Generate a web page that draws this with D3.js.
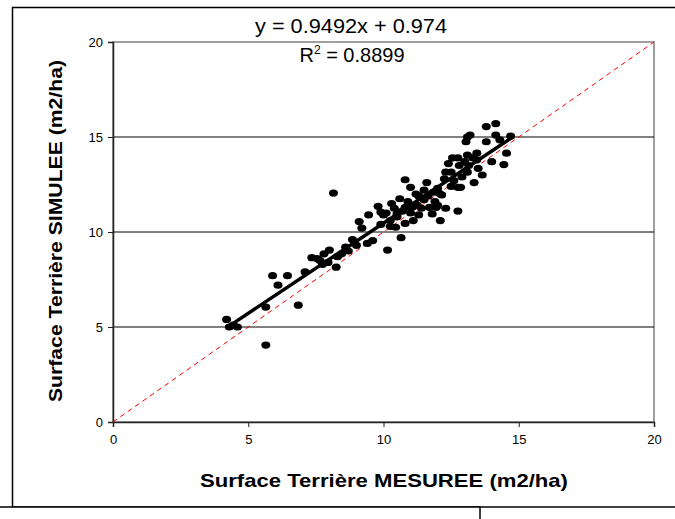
<!DOCTYPE html>
<html>
<head>
<meta charset="utf-8">
<script src="https://cdn.jsdelivr.net/npm/d3@7"></script>
<style>
  body { margin: 0; background: #fff; }
  svg { display: block; font-family: Arial, "Liberation Sans", sans-serif; }
</style>
</head>
<body>
<div id="chart"></div>
<script>
// measured basal area (x) and simulated basal area (y), m2/ha
const measured = [
  4.2, 4.3, 4.6, 4.45, 5.65, 5.65, 5.9, 6.1, 6.45, 6.85,
  7.1, 7.35, 7.65, 7.8, 8.0, 7.75, 8.25, 8.45, 8.7, 8.85,
  8.15, 9.1, 9.4, 9.6, 9.45, 9.8, 9.9, 10.15, 10.25, 10.5,
  10.6, 10.65, 10.4, 10.8, 10.8, 11.0, 10.5, 10.8, 11.25, 11.3,
  11.5, 11.6, 11.85, 11.7, 11.8, 12.1, 12.15, 12.3, 12.3, 12.5,
  12.4, 12.55, 12.75, 12.8, 12.75, 12.75, 13.05, 13.1, 13.1, 13.0,
  13.15, 13.1, 13.35, 12.85, 13.5, 13.65, 13.45, 13.45, 13.2, 13.8,
  14.15, 14.15, 13.8, 14.3, 14.7, 14.55, 14.45, 11.0, 11.3, 10.9,
  11.5, 11.9, 12.0, 11.2, 10.3, 10.1, 9.9, 10.25, 11.05, 11.4,
  12.05, 12.5, 12.6, 7.55, 8.3, 9.0, 9.2, 10.0, 10.7, 11.1,
  11.65, 12.0, 12.9, 13.3, 14.0, 7.95, 8.6, 10.45, 11.95, 12.25
];
const simulated = [
  5.4, 5.0, 5.0, 5.1, 4.05, 6.05, 7.7, 7.2, 7.7, 6.15,
  7.9, 8.65, 8.5, 8.85, 9.05, 8.3, 8.15, 8.85, 9.0, 9.6,
  12.05, 10.55, 9.4, 9.55, 10.9, 11.35, 11.05, 9.05, 10.6, 10.95,
  11.75, 9.7, 11.25, 11.3, 12.75, 12.35, 10.8, 10.45, 11.4, 11.9,
  12.2, 12.6, 12.1, 11.3, 10.95, 10.6, 11.95, 11.25, 13.15, 13.15,
  13.6, 13.9, 13.9, 13.5, 12.35, 11.1, 14.75, 15.0, 14.05, 13.7,
  13.5, 13.15, 12.6, 12.35, 13.35, 13.0, 13.8, 14.15, 15.1, 15.55,
  15.7, 15.1, 14.75, 14.85, 15.05, 14.15, 13.55, 11.0, 10.9, 11.6,
  11.7, 11.6, 12.3, 12.0, 11.5, 11.0, 10.4, 10.3, 11.3, 11.25,
  12.05, 12.4, 12.7, 8.6, 8.7, 9.3, 10.2, 10.9, 11.1, 10.6,
  11.9, 11.4, 12.9, 13.9, 13.7, 8.4, 9.2, 10.25, 11.3, 12.8
];
const xTicks = [0, 5, 10, 15, 20];
const yTicks = [0, 5, 10, 15, 20];
const gridValues = [5, 10, 15];
const slope = 0.9492;
const intercept = 0.974;
const rSquared = '0.8899';
const trendRange = [4.25, 14.8];

const W = 675, H = 519;
const svg = d3.select('#chart').append('svg')
  .attr('width', W)
  .attr('height', H);

const x = d3.scaleLinear().domain([0, 20]).range([113, 654]);
const y = d3.scaleLinear().domain([0, 20]).range([422, 42]);

// outer frame
svg.append('rect')
  .attr('x', 12.5).attr('y', 7.5)
  .attr('width', 700).attr('height', 499.5)
  .attr('fill', '#fff')
  .attr('stroke', '#000')
  .attr('stroke-width', 1.5);

// plot area border (top/right in grey)
svg.append('rect')
  .attr('x', x(0)).attr('y', y(20))
  .attr('width', x(20) - x(0)).attr('height', y(0) - y(20))
  .attr('fill', '#fff')
  .attr('stroke', '#808080')
  .attr('stroke-width', 1.5);

// gridlines
svg.append('g')
  .selectAll('line')
  .data(gridValues)
  .join('line')
  .attr('x1', x(0)).attr('x2', x(20))
  .attr('y1', d => y(d)).attr('y2', d => y(d))
  .attr('stroke', '#000')
  .attr('stroke-width', 1);

const xAxis = d3.axisBottom(x).tickValues(xTicks).tickSize(5).tickPadding(8);
const yAxis = d3.axisLeft(y).tickValues(yTicks).tickSize(5).tickPadding(5);

const gx = svg.append('g')
  .attr('transform', `translate(0, ${y(0)})`)
  .call(xAxis);
const gy = svg.append('g')
  .attr('transform', `translate(${x(0)}, 0)`)
  .call(yAxis);

[gx, gy].forEach((g) => {
  g.select('.domain').attr('stroke', '#222').attr('stroke-width', 1.5);
  g.selectAll('.tick line').attr('stroke', '#222');
  g.selectAll('.tick text')
    .attr('fill', '#000')
    .style('font-size', '13px')
    .style('font-family', 'Arial, "Liberation Sans", sans-serif');
});

// 1:1 line
svg.append('line')
  .attr('x1', x(0)).attr('y1', y(0))
  .attr('x2', x(20)).attr('y2', y(20))
  .attr('stroke', '#ff0000')
  .attr('stroke-width', 1)
  .attr('stroke-dasharray', '5,4');

// points
svg.append('g')
  .selectAll('ellipse')
  .data(measured.map((m, i) => ({ m, s: simulated[i] })))
  .join('ellipse')
  .attr('cx', d => x(d.m))
  .attr('cy', d => y(d.s))
  .attr('rx', 4.5)
  .attr('ry', 3.6)
  .attr('fill', '#000');

// linear trend
const line = d3.line()
  .x(d => x(d))
  .y(d => y(slope * d + intercept));
svg.append('path')
  .attr('d', line(trendRange))
  .attr('stroke', '#000')
  .attr('stroke-width', 3.5)
  .attr('fill', 'none');

// equation labels
svg.append('text')
  .attr('x', 351).attr('y', 33)
  .attr('text-anchor', 'middle')
  .style('font-size', '20px')
  .attr('textLength', 192)
  .attr('lengthAdjust', 'spacingAndGlyphs')
  .text(`y = ${slope}x + ${intercept}`);

const r2 = svg.append('text')
  .attr('x', 352).attr('y', 62)
  .attr('text-anchor', 'middle')
  .style('font-size', '20px');
r2.append('tspan').text('R');
r2.append('tspan').attr('dy', -8).style('font-size', '12px').text('2');
r2.append('tspan').attr('dy', 8).text(` = ${rSquared}`);

// axis titles
svg.append('text')
  .attr('x', 384).attr('y', 487)
  .attr('text-anchor', 'middle')
  .style('font-size', '19px')
  .style('font-weight', 'bold')
  .attr('textLength', 368)
  .attr('lengthAdjust', 'spacingAndGlyphs')
  .text('Surface Terrière MESUREE (m2/ha)');

svg.append('text')
  .attr('transform', 'translate(62, 231) rotate(-90)')
  .attr('text-anchor', 'middle')
  .style('font-size', '19px')
  .style('font-weight', 'bold')
  .attr('textLength', 342)
  .attr('lengthAdjust', 'spacingAndGlyphs')
  .text('Surface Terrière SIMULEE (m2/ha)');

// box at the bottom left
svg.append('rect')
  .attr('x', -2).attr('y', 507)
  .attr('width', 482).attr('height', 30)
  .attr('fill', '#fff')
  .attr('stroke', '#000')
  .attr('stroke-width', 1.5);
</script>
</body>
</html>
